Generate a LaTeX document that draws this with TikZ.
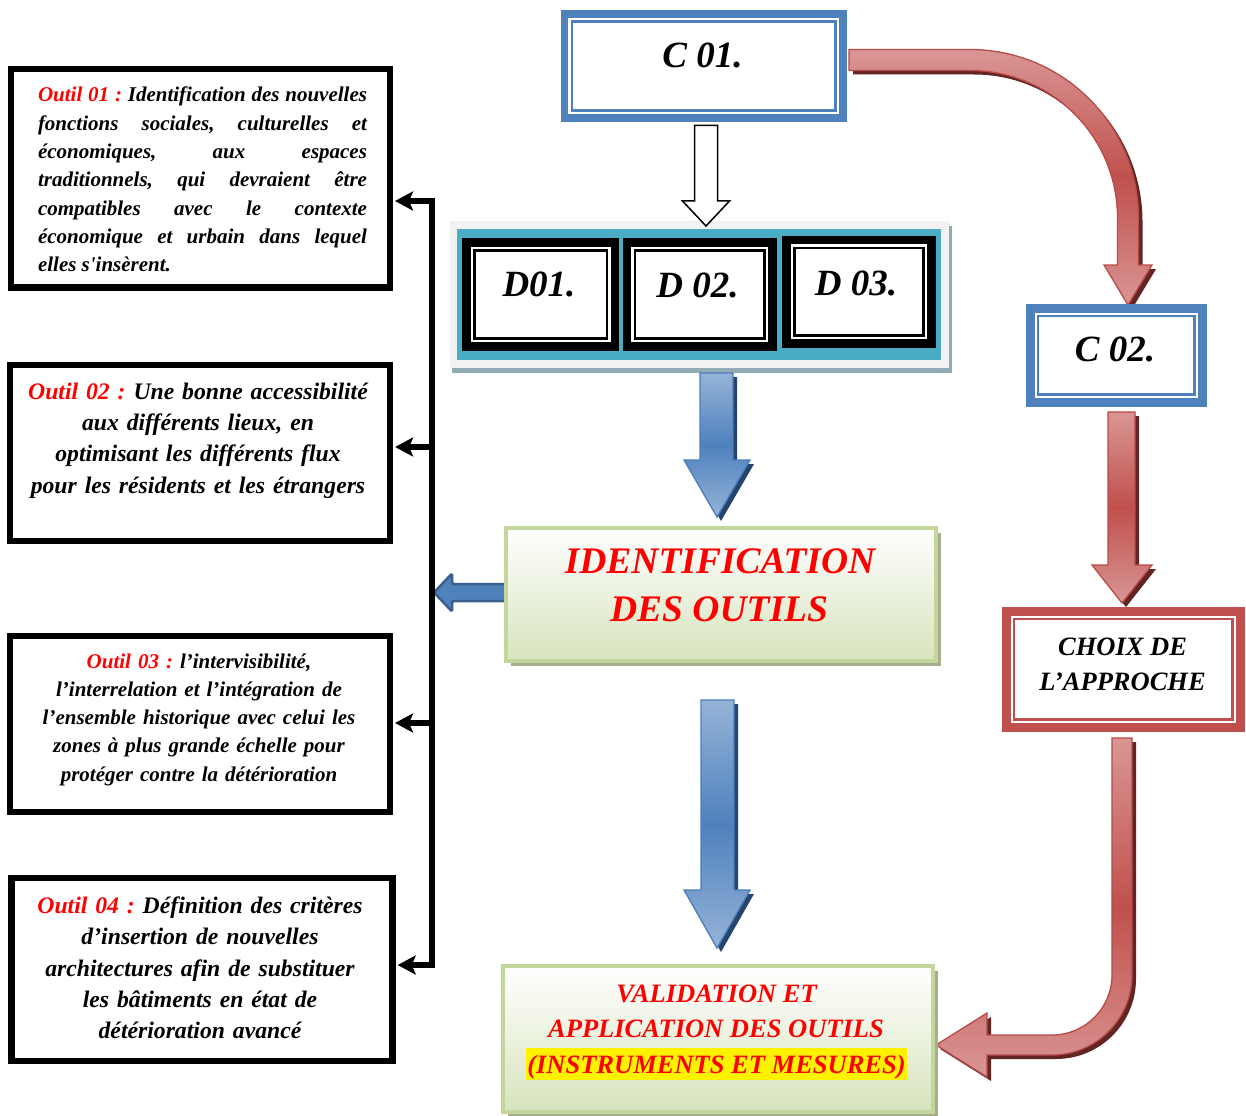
\documentclass[tikz,border=0pt]{standalone}
\usepackage{fontspec}
\newfontfamily\tnr{Liberation Serif}
\usetikzlibrary{arrows.meta,shadows}
\definecolor{frameblue}{HTML}{4F81BD}
\definecolor{framered}{HTML}{C0504D}
\definecolor{panelteal}{HTML}{4BACC6}
\definecolor{panelgray}{HTML}{F2F2F2}
\definecolor{panelshadow}{HTML}{92AAB4}
\definecolor{idborder}{HTML}{C3D69B}
\definecolor{idfill}{HTML}{D7E4BD}
\definecolor{idshadow}{HTML}{A6AE8E}
\definecolor{redlight}{HTML}{D99694}
\definecolor{redmid}{HTML}{C0504D}
\definecolor{rededge}{HTML}{B84A47}
\definecolor{redshadow}{HTML}{632523}
\definecolor{bluelight}{HTML}{95B3D7}
\definecolor{bluemid}{HTML}{4F81BD}
\definecolor{blueedge}{HTML}{4A7EBB}
\definecolor{blueshadow}{HTML}{26456E}
\definecolor{bluedark}{HTML}{3A5F8E}
\setlength\parindent{0pt}
\hyphenpenalty=10000
\exhyphenpenalty=10000
\frenchspacing
\setlength\fboxsep{1.5pt}
% thin line drawn inside a framed box
\newcommand\innerframe[3]{\draw[#3] ([xshift=#2,yshift=-#2]#1.north west) rectangle ([xshift=-#2,yshift=#2]#1.south east);}
% block arrow outlines (pixel-like units, y pointing down)
\def\arrowCurveTop{(849,49.5) -- (970,49.5) arc[start angle=-90,end angle=0,radius=168.5] -- (1138.5,265) -- (1152,265) -- (1128,305) -- (1104,265) -- (1117.5,265) -- (1117.5,218) arc[start angle=0,end angle=-90,radius=147.5] -- (849,70.5) -- cycle}
\def\arrowCurveBottom{(1112,738) -- (1132,738) -- (1132,975) arc[start angle=0,end angle=90,radius=80] -- (987,1055) -- (987,1077) -- (936,1045) -- (987,1013) -- (987,1035) -- (1052,1035) arc[start angle=90,end angle=0,radius=60] -- cycle}
\def\arrowRedDown{(1108,412) -- (1135,412) -- (1135,565) -- (1152,565) -- (1122,603) -- (1092,565) -- (1108,565) -- cycle}
\def\arrowBlueOne{(700,373) -- (733,373) -- (733,460) -- (750,460) -- (717,517) -- (684,460) -- (700,460) -- cycle}
\def\arrowBlueTwo{(701,700) -- (734,700) -- (734,890) -- (750,890) -- (717,948) -- (684,890) -- (701,890) -- cycle}
\tikzset{bustip/.tip={Stealth[length=18pt,width=19pt,inset=4pt]}}
\begin{document}
\begin{tikzpicture}[x=1pt,y=-1pt,
  every node/.style={inner sep=0pt,outer sep=0pt},
  cframe/.style={draw=frameblue,line width=7.7pt,fill=white},
  dframe/.style={draw=black,line width=8.5pt,fill=white},
  outilbox/.style={draw=black,line width=6.5pt,fill=white},
  choixframe/.style={draw=framered,line width=9pt,fill=white},
  greenbox/.style={draw=idborder,line width=4pt,top color=white,bottom color=idfill,
    general shadow={fill=idshadow,shadow xshift=5pt,shadow yshift=-5pt}},
  bigtxt/.style={font=\tnr\bfseries\itshape\fontsize{37}{37}\selectfont},
  idtxt/.style={text=red,font=\tnr\bfseries\itshape\fontsize{37.5}{37.5}\selectfont},
  valtxt/.style={text=red,font=\tnr\bfseries\itshape\fontsize{26.5}{35}\selectfont},
  choixtxt/.style={font=\tnr\bfseries\itshape\fontsize{26.5}{35}\selectfont},
  smalltxt/.style={font=\tnr\bfseries\itshape\fontsize{21}{28.33}\selectfont},
  largetxt/.style={font=\tnr\bfseries\itshape\fontsize{23.7}{31.4}\selectfont},
  redarrow/.style={draw=rededge,line width=1.3pt,top color=redlight,bottom color=redlight,middle color=redmid},
  bluearrow/.style={draw=blueedge,line width=1.3pt,top color=bluelight,bottom color=bluelight,middle color=bluemid},
  busline/.style={line width=6pt,line join=miter}
]
\useasboundingbox (0,0) rectangle (1246,1115);

% ---------- panel holding D01 / D02 / D03 ----------
\fill[panelshadow] (452,226) rectangle (951.7,373.3);
\fill[panelgray] (450,220.7) rectangle (949,368.3);
\fill[panelteal] (457.3,229.3) rectangle (940.7,360);

% ---------- block arrows ----------
\fill[redshadow,xshift=4pt,yshift=-4pt] \arrowCurveTop;
\path[redarrow] \arrowCurveTop;
\fill[redshadow,xshift=4pt,yshift=-4pt] \arrowRedDown;
\path[redarrow] \arrowRedDown;
\fill[redshadow,xshift=4pt,yshift=-4pt] \arrowCurveBottom;
\path[redarrow] \arrowCurveBottom;
\fill[blueshadow,xshift=4pt,yshift=-4pt] \arrowBlueOne;
\path[bluearrow] \arrowBlueOne;
\fill[blueshadow,xshift=4pt,yshift=-4pt] \arrowBlueTwo;
\path[bluearrow] \arrowBlueTwo;
% hollow arrow from C 01. down to the panel
\draw[line width=1.5pt,fill=white] (694.5,125.5) -- (717.5,125.5) -- (717.5,201) -- (729.5,201) -- (706,226) -- (682.5,201) -- (694.5,201) -- cycle;
% small arrow from the identification box to the bus
\draw[fill=bluemid,draw=bluedark,line width=2.5pt,rounded corners=1.5pt] (506,584) -- (452,584) -- (452,573.5) -- (434,592.5) -- (452,611.5) -- (452,601) -- (506,601) -- cycle;

% ---------- C 01. ----------
\node[cframe,minimum width=278.3pt,minimum height=104pt] (c1) at (703.7,65.8) {};
\innerframe{c1}{7.5pt}{frameblue,line width=2.5pt}
\node[bigtxt,anchor=base] (c1t) at (702.5,68) {C 01.};

% ---------- D boxes ----------
\node[dframe,minimum width=148.3pt,minimum height=104.4pt] (d1) at (540.85,294.5) {};
\innerframe{d1}{8pt}{black,line width=2.5pt}
\node[bigtxt,anchor=base] (d1t) at (539,296.7) {D01.};
\node[dframe,minimum width=145.5pt,minimum height=104pt] (d2) at (699.7,294.5) {};
\innerframe{d2}{8pt}{black,line width=2.5pt}
\node[bigtxt,anchor=base] (d2t) at (697.5,297) {D 02.};
\node[dframe,minimum width=145pt,minimum height=103.3pt] (d3) at (859,291.85) {};
\innerframe{d3}{8pt}{black,line width=2.5pt}
\node[bigtxt,anchor=base] (d3t) at (856,295) {D 03.};

% ---------- C 02. ----------
\node[cframe,line width=8.5pt,minimum width=172.2pt,minimum height=94.2pt] (c2) at (1116.35,355.35) {};
\innerframe{c2}{7.75pt}{frameblue,line width=2.5pt}
\node[bigtxt,anchor=base] (c2t) at (1115,361.7) {C 02.};

% ---------- choix de l'approche ----------
\node[choixframe,minimum width=234.3pt,minimum height=116pt] (ch) at (1123.35,669.2) {};
\innerframe{ch}{7.8pt}{framered,line width=2.5pt}
\node[choixtxt,anchor=base] (ch1) at (1122.5,655) {CHOIX DE};
\node[choixtxt,anchor=base] (ch2) at (1122.5,690) {L’APPROCHE};

% ---------- identification des outils ----------
\node[greenbox,minimum width=430pt,minimum height=133pt] (id) at (721,594.5) {};
\node[idtxt,anchor=base] (id1) at (720,573) {IDENTIFICATION};
\node[idtxt,anchor=base] (id2) at (719,621.7) {DES OUTILS};

% ---------- validation ----------
\node[greenbox,minimum width=429.5pt,minimum height=146pt] (val) at (717.75,1038.5) {};
\node[valtxt,anchor=base] (v1) at (716.5,1002) {VALIDATION ET};
\node[valtxt,anchor=base] (v2) at (716,1037) {APPLICATION DES OUTILS};
\node[valtxt,anchor=base] (v3) at (716.5,1073) {\colorbox{yellow}{\rule[-0.13em]{0pt}{1.017em}(INSTRUMENTS ET MESURES)}};

% ---------- the four tools ----------
\node[outilbox,minimum width=378.8pt,minimum height=218.2pt] (o1) at (200.6,178.3) {};
\node[smalltxt,text width=329pt,align=justify,anchor=base] (o1t) at (202.5,102) {\textcolor{red}{Outil 01 :} Identification des nouvelles\linebreak fonctions sociales, culturelles et\linebreak économiques, aux espaces\linebreak traditionnels, qui devraient être\linebreak compatibles avec le contexte\linebreak économique et urbain dans lequel\linebreak elles s'insèrent.};

\node[outilbox,minimum width=380.2pt,minimum height=176.1pt] (o2) at (200,453) {};
\node[largetxt,text width=370pt,align=center,anchor=base] (o2t) at (198,399) {\textcolor{red}{Outil 02 :} Une bonne accessibilité\\ aux différents lieux, en\\ optimisant les différents flux\\ pour les résidents et les étrangers};

\node[outilbox,minimum width=380pt,minimum height=176pt] (o3) at (200,724) {};
\node[smalltxt,text width=370pt,align=center,anchor=base] (o3t) at (199,668) {\textcolor{red}{Outil 03 :} l’intervisibilité,\\ l’interrelation et l’intégration de\\ l’ensemble historique avec celui les\\ zones à plus grande échelle pour\\ protéger contre la détérioration};

\node[outilbox,minimum width=381.2pt,minimum height=182.8pt] (o4) at (202.1,969.6) {};
\node[largetxt,text width=370pt,align=center,anchor=base] (o4t) at (200,913.3) {\textcolor{red}{Outil 04 :} Définition des critères\\ d’insertion de nouvelles\\ architectures afin de substituer\\ les bâtiments en état de\\ détérioration avancé};

% ---------- bus feeding the four tools ----------
\coordinate (j1) at (432,201);
\coordinate (j2) at (432,447);
\coordinate (j3) at (432,723);
\coordinate (j4) at (432,965);
\draw[busline,bustip-bustip,shorten <=5pt,shorten >=5pt] (j1 -| o1.east) -- (j1) -- (j4) -- (j4 -| o4.east);
\draw[busline,-bustip,shorten >=5pt] (j2) -- (j2 -| o2.east);
\draw[busline,-bustip,shorten >=5pt] (j3) -- (j3 -| o3.east);
\end{tikzpicture}
\end{document}
